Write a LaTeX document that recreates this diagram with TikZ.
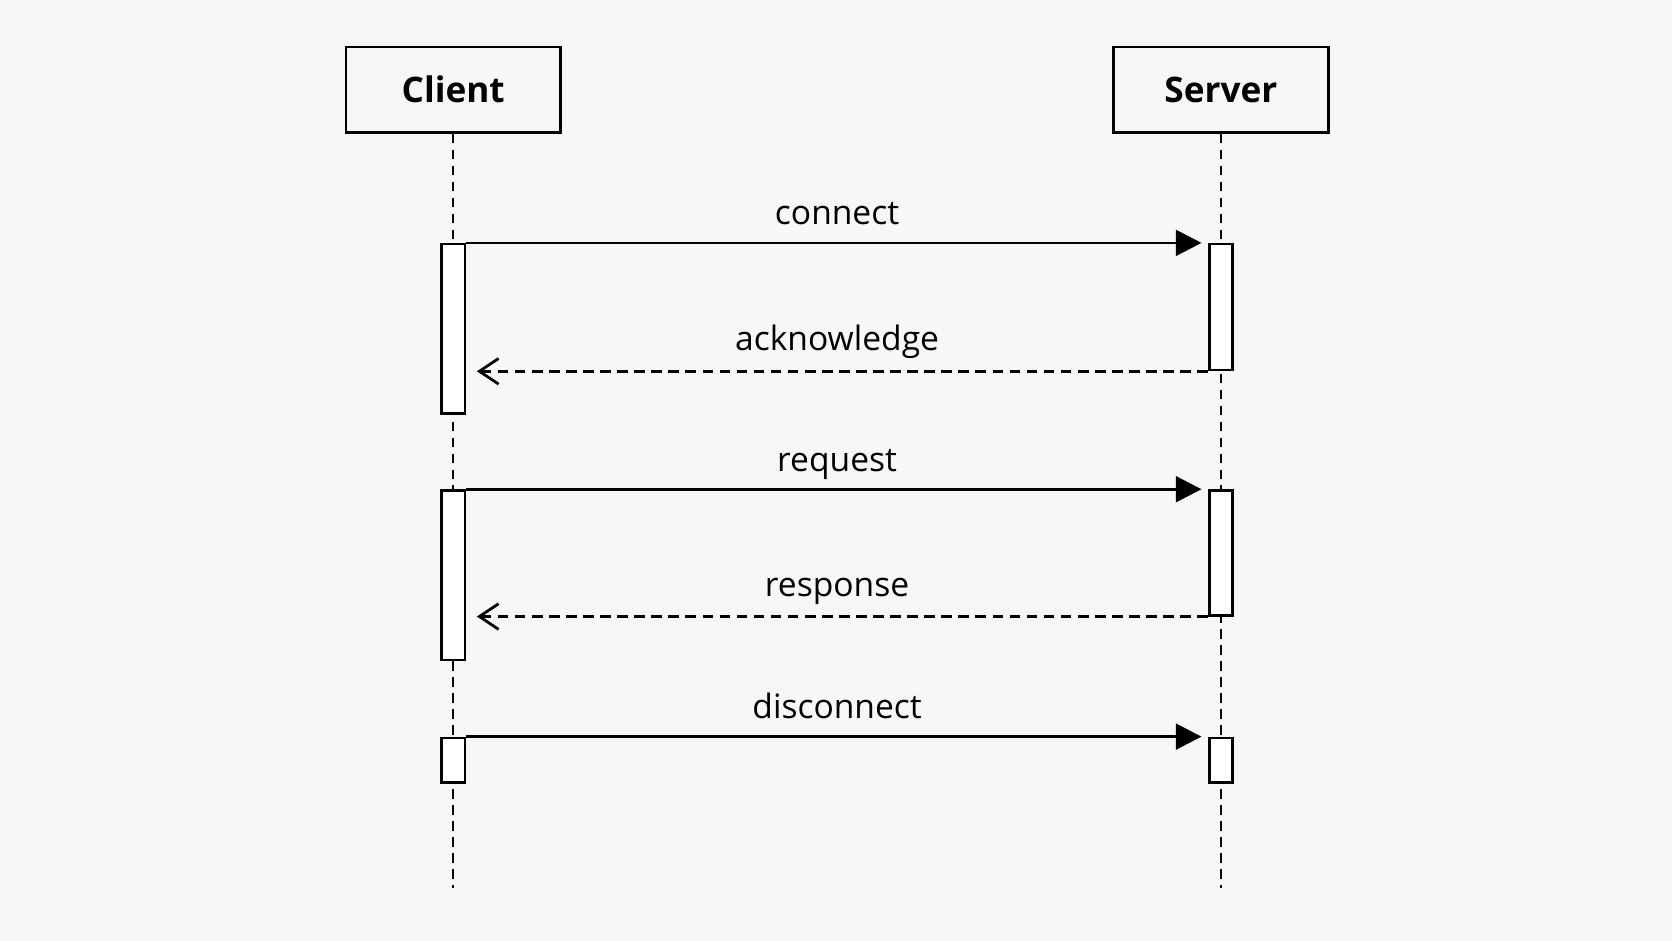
\documentclass[tikz,border=0pt]{standalone}
\usepackage{fontspec}
\setmainfont{Open Sans}
\usetikzlibrary{arrows.meta}
\begin{document}
\begin{tikzpicture}[x=1pt,y=-1pt,
  box/.style={draw,line width=2.6pt,minimum width=201pt,minimum height=80pt,font=\fontsize{33}{37}\selectfont\bfseries,inner sep=0},
  life/.style={line width=2.2pt,dash pattern=on 9pt off 6pt},
  act/.style={draw,fill=white,line width=2.4pt,minimum width=22pt,inner sep=0},
  msg/.style={line width=2.6pt,-{Triangle[length=24pt,width=24pt]},shorten >=6pt},
  ret/.style={line width=2.6pt,dash pattern=on 10pt off 6pt,-{Straight Barb[length=18pt,width=24pt,line width=2.6pt]}},
  lab/.style={font=\fontsize{31.5}{35}\selectfont,anchor=base}]
\fill[white!97!black] (0,0) rectangle (1568,882);
\useasboundingbox (0,0) rectangle (1568,882);
\node[box] (client) at (425,84) {Client};
\node[box] (server) at (1145,84) {Server};
\coordinate (cend) at (425,833);
\coordinate (send) at (1145,833);
\draw[life] (client.south) -- (cend);
\draw[life] (server.south) -- (send);
% activations
\node[act,minimum height=159pt] (c1) at (425,308.5) {};
\node[act,minimum height=159pt] (c2) at (425,539.5) {};
\node[act,minimum height=42pt] (c3) at (425,713) {};
\node[act,minimum height=118pt] (s1) at (1145,288) {};
\node[act,minimum height=117pt] (s2) at (1145,518.5) {};
\node[act,minimum height=42pt] (s3) at (1145,713) {};
% messages
\draw[msg] (c1.north east) -- (s1.north west);
\draw[ret] (s1.south west) -- ([xshift=10pt]c1.east |- s1.south);
\draw[msg] (c2.north east) -- (s2.north west);
\draw[ret] (s2.south west) -- ([xshift=10pt]c2.east |- s2.south);
\draw[msg] (c3.north east) -- (s3.north west);
\node[lab] (l1) at (785,211) {connect};
\node[lab] (l2) at (785,329) {acknowledge};
\node[lab] (l3) at (785,442) {request};
\node[lab] (l4) at (785,559) {response};
\node[lab] (l5) at (785,674) {disconnect};
\end{tikzpicture}
\end{document}
